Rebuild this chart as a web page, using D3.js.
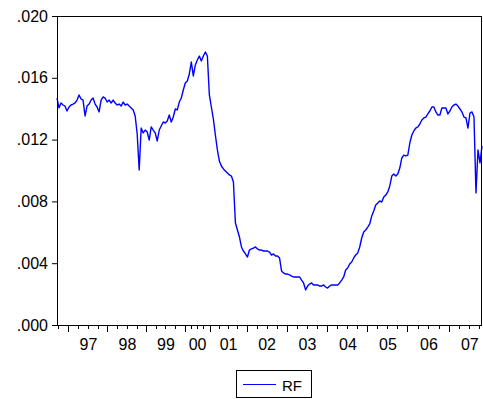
<!DOCTYPE html>
<html>
<head>
<meta charset="utf-8">
<script src="https://cdn.jsdelivr.net/npm/d3@7"></script>
<style>
  body { margin: 0; background: #fff; }
  svg { display: block; font-family: Arial, "Liberation Sans", sans-serif; }
</style>
</head>
<body>
<div id="chart"></div>
<script>
// Axis is by observation (daily data), so each year gets its own count
var leadObs    = 75;   // tail of 1996 before the first labelled year
var yearLabels = ["97", "98", "99", "00", "01", "02", "03", "04", "05", "06", "07"];
var yearObs    = [246, 246, 240, 158, 233, 252, 258, 252, 252, 265, 202];
var fullYear   = 250;

var yTicks = [0, 0.004, 0.008, 0.012, 0.016, 0.020];

var rf = [
  0.01469, 0.01405, 0.01437, 0.01424, 0.01417, 0.01385, 0.01411, 0.01424, 0.01430, 0.01437,
  0.01456, 0.01489, 0.01463, 0.01456, 0.01353, 0.01417, 0.01430, 0.01456, 0.01469, 0.01430,
  0.01411, 0.01379, 0.01456, 0.01476, 0.01469, 0.01443, 0.01456, 0.01437, 0.01456, 0.01437,
  0.01424, 0.01430, 0.01417, 0.01443, 0.01424, 0.01430, 0.01417, 0.01405, 0.01392, 0.01353,
  0.01236, 0.01003, 0.01275, 0.01243, 0.01262, 0.01249, 0.01197, 0.01282, 0.01262, 0.01243,
  0.01191, 0.01262, 0.01288, 0.01314, 0.01307, 0.01320, 0.01359, 0.01314, 0.01346, 0.01398,
  0.01392, 0.01443, 0.01469, 0.01521, 0.01566, 0.01579, 0.01625, 0.01702, 0.01612, 0.01683,
  0.01715, 0.01741, 0.01709, 0.01741, 0.01767, 0.01741, 0.01489, 0.01411, 0.01333, 0.01230,
  0.01133, 0.01061, 0.01029, 0.01010, 0.00997, 0.00984, 0.00971, 0.00964, 0.00926, 0.00660,
  0.00615, 0.00570, 0.00505, 0.00479, 0.00460, 0.00440, 0.00485, 0.00492, 0.00498, 0.00505,
  0.00492, 0.00485, 0.00485, 0.00479, 0.00479, 0.00479, 0.00472, 0.00453, 0.00460, 0.00447,
  0.00447, 0.00434, 0.00350, 0.00337, 0.00330, 0.00330, 0.00324, 0.00317, 0.00311, 0.00311,
  0.00311, 0.00311, 0.00291, 0.00272, 0.00227, 0.00252, 0.00265, 0.00272, 0.00259, 0.00259,
  0.00259, 0.00252, 0.00252, 0.00259, 0.00246, 0.00239, 0.00252, 0.00259, 0.00259, 0.00259,
  0.00259, 0.00272, 0.00291, 0.00311, 0.00356, 0.00369, 0.00395, 0.00408, 0.00434, 0.00453,
  0.00466, 0.00505, 0.00563, 0.00602, 0.00615, 0.00634, 0.00654, 0.00706, 0.00738, 0.00777,
  0.00790, 0.00803, 0.00796, 0.00828, 0.00841, 0.00861, 0.00900, 0.00964, 0.00977, 0.00964,
  0.00977, 0.01016, 0.01081, 0.01100, 0.01094, 0.01100, 0.01178, 0.01230, 0.01256, 0.01275,
  0.01282, 0.01301, 0.01327, 0.01340, 0.01346, 0.01366, 0.01385, 0.01411, 0.01411, 0.01379,
  0.01359, 0.01359, 0.01405, 0.01405, 0.01405, 0.01366, 0.01385, 0.01411, 0.01424, 0.01430,
  0.01417, 0.01398, 0.01379, 0.01346, 0.01340, 0.01275, 0.01372, 0.01379, 0.01346, 0.00854,
  0.01133, 0.01049, 0.01159
];

var width = 483, height = 399;
var margin = {top: 16, right: 1, bottom: 74, left: 57};
var plotW = width - margin.left - margin.right;
var plotH = height - margin.top - margin.bottom;

var totalObs = leadObs + d3.sum(yearObs);
var step = totalObs / (rf.length - 1);

var x = d3.scaleLinear().domain([0, totalObs]).range([0, plotW]);
var y = d3.scaleLinear().domain([0, 0.020]).range([plotH, 0]);

var svg = d3.select('#chart').append('svg')
  .attr('width', width)
  .attr('height', height);

var g = svg.append('g')
  .attr('transform', `translate(${margin.left},${margin.top})`);

// Year boundaries (major) and quarters (minor)
var yearStart = [];
var acc = leadObs;
yearObs.forEach(function(n) { yearStart.push(acc); acc += n; });

var minor = [];
for (var q = leadObs - fullYear / 4; q > 0; q -= fullYear / 4) minor.push(q);
yearObs.forEach(function(n, i) {
  var len = i === yearObs.length - 1 ? fullYear : n;
  for (var k = 1; k < 4; k++) {
    var t = yearStart[i] + k * len / 4;
    if (t < totalObs) minor.push(t);
  }
});

g.selectAll('.minor').data(minor).enter().append('line')
  .attr('x1', (d) => x(d)).attr('x2', (d) => x(d))
  .attr('y1', plotH).attr('y2', plotH + 4)
  .attr('stroke', '#000').attr('shape-rendering', 'crispEdges');

g.selectAll('.major').data(yearStart).enter().append('line')
  .attr('x1', (d) => x(d)).attr('x2', (d) => x(d))
  .attr('y1', plotH).attr('y2', plotH + 7)
  .attr('stroke', '#000').attr('shape-rendering', 'crispEdges');

// Year labels sit in the middle of each year
g.selectAll('.xlab').data(yearLabels).enter().append('text')
  .attr('x', function(d, i) {
    var len = i === yearObs.length - 1 ? fullYear : yearObs[i];
    return x(yearStart[i] + len / 2);
  })
  .attr('y', plotH + 25)
  .attr('text-anchor', 'middle')
  .style('font-size', '16px')
  .text((d) => d);

// Y axis
var fmt = d3.format('.3f');
var yAxis = d3.axisLeft(y)
  .tickValues(yTicks)
  .tickSize(5)
  .tickPadding(4)
  .tickFormat((d) => fmt(d).replace(/^0/, ''));
var ya = g.append('g').call(yAxis);
ya.select('.domain').remove();
ya.selectAll('text').style('font-size', '16px').attr('fill', '#000');
ya.selectAll('line').attr('stroke', '#000');

// Series line
var line = d3.line()
  .x((d, i) => x(i * step))
  .y((d) => y(d));

g.append('path')
  .datum(rf)
  .attr('fill', 'none')
  .attr('stroke', '#0000ff')
  .attr('stroke-width', 1.4)
  .attr('stroke-linejoin', 'round')
  .attr('d', line);

// Frame
g.append('rect')
  .attr('x', 0.5).attr('y', 0.5)
  .attr('width', plotW - 1).attr('height', plotH)
  .attr('fill', 'none')
  .attr('stroke', '#000');

// Legend
var legend = svg.append('g').attr('transform', 'translate(236,370)');
legend.append('rect')
  .attr('x', 0.5).attr('y', 0.5)
  .attr('width', 75).attr('height', 27)
  .attr('fill', '#fff').attr('stroke', '#000');
legend.append('line')
  .attr('x1', 7).attr('x2', 40)
  .attr('y1', 14.5).attr('y2', 14.5)
  .attr('stroke', '#0000ff').attr('stroke-width', 1);
legend.append('text')
  .attr('x', 46).attr('y', 20.5)
  .style('font-size', '15px')
  .text('RF');
</script>
</body>
</html>
